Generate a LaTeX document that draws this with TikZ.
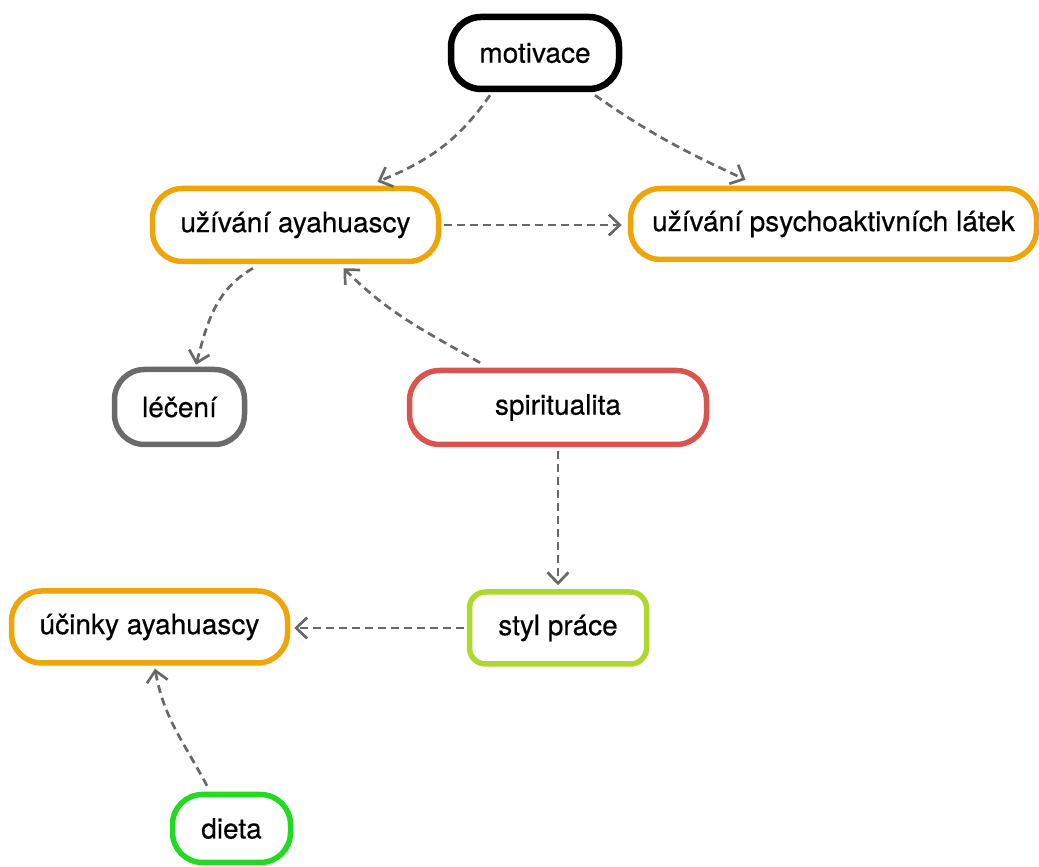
\documentclass[tikz,border=0pt]{standalone}
\usepackage{fontspec}
\setmainfont{TeX Gyre Heros}[FakeBold=0.4]
\usetikzlibrary{arrows.meta}
\definecolor{corange}{HTML}{EFA50A}
\definecolor{cred}{HTML}{D9534F}
\definecolor{cgray}{HTML}{6A6A6A}
\definecolor{clime}{HTML}{AED82E}
\definecolor{cgreen}{HTML}{22DA22}
\definecolor{cedge}{HTML}{686868}
\begin{document}
\begin{tikzpicture}[x=1pt,y=1pt,
  box/.style={draw, line width=5.5pt, rounded corners=30pt, fill=white, inner sep=0pt,
    font=\fontsize{28}{32}\selectfont\bfseries, text=black},
  link/.style={draw=cedge, line width=2.7pt, dash pattern=on 8pt off 5pt,
    -{Straight Barb[length=11pt,width=21pt,line width=2.7pt]}}]
\useasboundingbox (0,0) rectangle (1039,867);
\node[box, draw=black, line width=6.5pt, minimum width=168pt, minimum height=72pt] (mot) at (535,814) {\mdseries motivace};
\node[box, draw=corange, minimum width=286pt, minimum height=73pt] (ua) at (295.5,642) {\mdseries užívání ayahuascy};
\node[box, draw=corange, minimum width=406pt, minimum height=71pt] (psy) at (833.5,643) {\mdseries užívání psychoaktivních látek};
\node[box, draw=cgray, minimum width=130pt, minimum height=75pt] (lec) at (179.5,460) {\mdseries léčení};
\node[box, draw=cred, minimum width=297pt, minimum height=74pt] (spi) at (558,459.5) {\mdseries spiritualita};
\node[box, draw=clime, rounded corners=16pt, minimum width=177pt, minimum height=72pt] (sty) at (558,239) {\mdseries styl práce};
\node[box, draw=corange, minimum width=276pt, minimum height=72pt] (uci) at (149.5,240) {\mdseries účinky ayahuascy};
\node[box, draw=cgreen, minimum width=118pt, minimum height=68pt] (die) at (231.5,38.5) {\mdseries dieta};

\draw[link] ([xshift=-45pt,yshift=-3pt]mot.south) to[out=-125,in=22] ([xshift=82pt,yshift=4pt]ua.north);
\draw[link] ([xshift=60pt,yshift=-3pt]mot.south) to[out=-35,in=155] ([xshift=-88pt,yshift=6pt]psy.north);
\draw[link] ([xshift=3pt]ua.east) -- ([xshift=-6pt]ua.east -| psy.west);
\draw[link] ([xshift=-42.5pt,yshift=-4pt]ua.south) to[out=-150,in=75] ([xshift=16.5pt,yshift=2pt]lec.north);
\draw[link] ([xshift=-78pt,yshift=5pt]spi.north) to[out=150,in=-45] ([xshift=48pt,yshift=-4pt]ua.south);
\draw[link] ([yshift=-4pt]spi.south) -- ([yshift=4pt]sty.north);
\draw[link] ([xshift=-3pt]sty.west) -- ([xshift=4pt]sty.west -| uci.east);
\draw[link] ([xshift=-24.5pt,yshift=6pt]die.north) to[out=118,in=-80] ([xshift=5.5pt,yshift=-3pt]uci.south);
\end{tikzpicture}
\end{document}
